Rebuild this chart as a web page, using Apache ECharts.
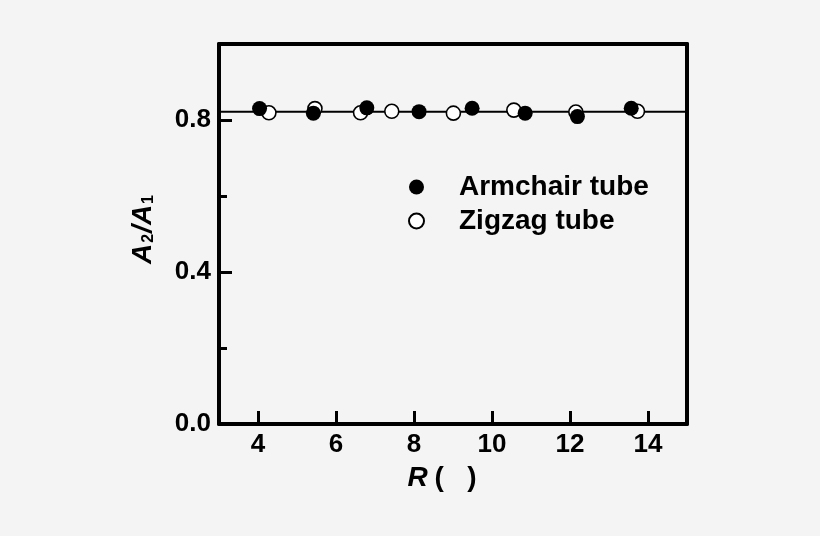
<!DOCTYPE html>
<html><head><meta charset="utf-8">
<script src="https://cdn.jsdelivr.net/npm/echarts@6/dist/echarts.min.js"></script>
<style>html,body{margin:0;padding:0;background:#f4f4f4}#c{width:820px;height:536px}</style>
</head><body><div id="c"></div>
<script>
const armchairR = [4.04, 5.42, 6.79, 8.13, 9.49, 10.85, 12.19, 13.57];
const armchairRatio = [0.830, 0.818, 0.832, 0.822, 0.831, 0.818, 0.809, 0.831];
const zigzagR = [4.28, 5.46, 6.63, 7.43, 9.01, 10.56, 12.15, 13.73];
const zigzagRatio = [0.819, 0.830, 0.819, 0.823, 0.818, 0.826, 0.821, 0.823];
const fitRatio = 0.822;
const xRange = [3, 15];
const yRange = [0, 1.0];
const xTicks = [4, 6, 8, 10, 12, 14];
const yTicks = [0, 0.4, 0.8];
const yMinorTicks = [0.2, 0.6];

const FONT = "'Liberation Sans', Arial, sans-serif";
const chart = echarts.init(document.getElementById('c'));
const pair = (xs, ys) => xs.map((x, i) => [x, ys[i]]);

chart.setOption({
  backgroundColor: '#f4f4f4',
  animation: false,
  grid: { left: 219, right: 133, top: 44, bottom: 112 },
  legend: {
    orient: 'vertical', left: 408, top: 173, padding: 0,
    itemWidth: 15, itemHeight: 15, itemGap: 6,
    icon: 'circle',
    textStyle: { fontFamily: FONT, fontSize: 28, fontWeight: 'bold', color: '#000', padding: [0, 0, 0, 30] },
    data: ['Armchair tube', 'Zigzag tube']
  },
  xAxis: [{
    type: 'value', min: xRange[0], max: xRange[1], position: 'bottom',
    splitLine: { show: false },
    axisLine: { onZero: false, lineStyle: { color: '#000', width: 4 } },
    axisTick: { inside: true, length: 13, lineStyle: { width: 3, color: '#000' }, customValues: xTicks },
    axisLabel: { customValues: xTicks, margin: 8, fontFamily: FONT, fontSize: 26, fontWeight: 'bold', color: '#000' },
    name: '{i|R}{n|(   )}', nameLocation: 'middle', nameGap: 40,
    nameTextStyle: {
      padding: [0, 22, 0, 0],
      rich: {
        i: { fontFamily: FONT, fontSize: 28, fontWeight: 'bold', fontStyle: 'italic', color: '#000', padding: [0, 7, 0, 0] },
        n: { fontFamily: FONT, fontSize: 28, fontWeight: 'bold', color: '#000' }
      }
    }
  }, {
    type: 'value', min: xRange[0], max: xRange[1], position: 'top',
    splitLine: { show: false },
    axisLine: { onZero: false, lineStyle: { color: '#000', width: 4 } },
    axisTick: { show: false }, axisLabel: { show: false }
  }],
  yAxis: [{
    type: 'value', min: yRange[0], max: yRange[1], position: 'left',
    splitLine: { show: false },
    axisLine: { onZero: false, lineStyle: { color: '#000', width: 4 } },
    axisTick: { inside: true, length: 13, lineStyle: { width: 3, color: '#000' }, customValues: yTicks },
    axisLabel: { customValues: yTicks, margin: 8, fontFamily: FONT, fontSize: 26, fontWeight: 'bold', color: '#000',
      formatter: v => v.toFixed(1) },
    name: '{i|A}{s|2}{i|/A}{s|1}', nameLocation: 'middle', nameGap: 62, nameRotate: 90,
    nameTextStyle: {
      padding: [0, 0, 0, 10],
      rich: {
        i: { fontFamily: FONT, fontSize: 28, fontWeight: 'bold', fontStyle: 'italic', color: '#000' },
        s: { fontFamily: FONT, fontSize: 16, fontWeight: 'bold', color: '#000', verticalAlign: 'bottom', padding: [12, 1, 0, 1] }
      }
    }
  }, {
    type: 'value', min: yRange[0], max: yRange[1], position: 'left',
    splitLine: { show: false },
    axisLine: { show: false, onZero: false },
    axisTick: { inside: true, length: 8, lineStyle: { width: 3, color: '#000' }, customValues: yMinorTicks },
    axisLabel: { show: false }
  }, {
    type: 'value', min: yRange[0], max: yRange[1], position: 'right',
    splitLine: { show: false },
    axisLine: { onZero: false, lineStyle: { color: '#000', width: 4 } },
    axisTick: { show: false }, axisLabel: { show: false }
  }],
  series: [{
    type: 'line', xAxisIndex: 0, yAxisIndex: 0, symbol: 'none', silent: true,
    lineStyle: { color: '#000', width: 2 },
    data: [[xRange[0], fitRatio], [xRange[1], fitRatio]], z: 1
  }, {
    name: 'Zigzag tube', type: 'scatter', xAxisIndex: 0, yAxisIndex: 0,
    symbol: 'circle', symbolSize: 14,
    itemStyle: { color: '#ffffff', borderColor: '#000', borderWidth: 1.6, opacity: 1 },
    data: pair(zigzagR, zigzagRatio), z: 2
  }, {
    name: 'Armchair tube', type: 'scatter', xAxisIndex: 0, yAxisIndex: 0,
    symbol: 'circle', symbolSize: 15,
    itemStyle: { color: '#000', opacity: 1 },
    data: pair(armchairR, armchairRatio), z: 3
  }]
});
</script></body></html>
